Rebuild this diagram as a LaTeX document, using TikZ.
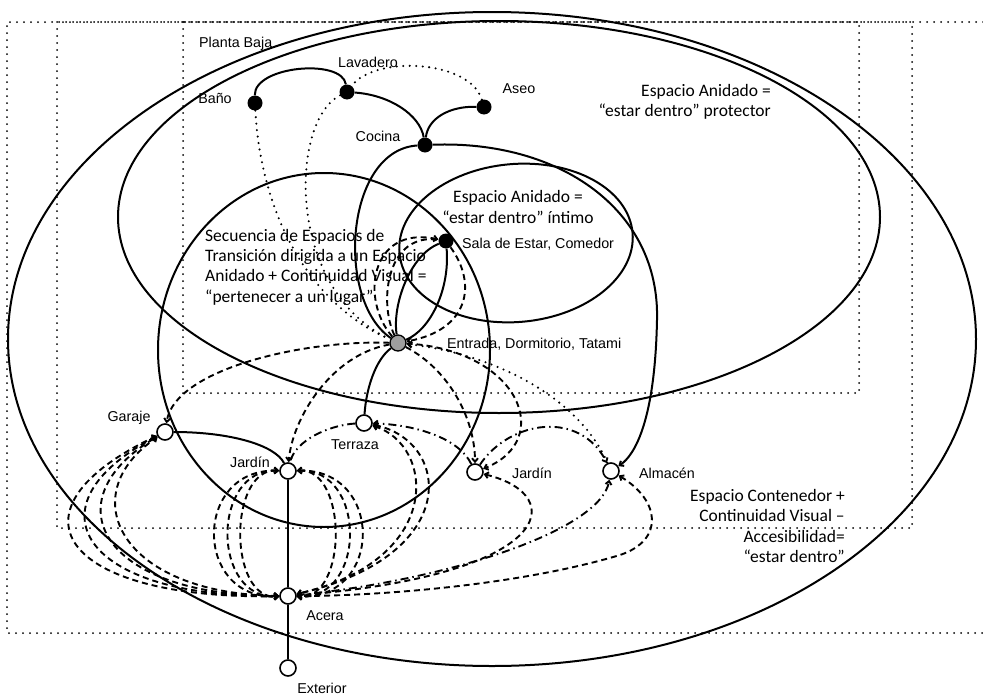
\documentclass[tikz,border=0pt]{standalone}
\usepackage{fontspec}
\setmainfont{Liberation Sans}
\newfontfamily\calfont{Carlito}
\usetikzlibrary{arrows.meta}
\pgfdeclarelayer{bg}
\pgfsetlayers{bg,main}
\begin{document}
\begin{tikzpicture}[x=1pt,y=-1pt,
 blk/.style={circle,fill=black,minimum size=15pt,inner sep=0pt},
 wht/.style={circle,draw=black,fill=white,line width=1.6pt,minimum size=16pt,inner sep=0pt},
 gry/.style={circle,draw=black,fill=gray!75,line width=1.3pt,minimum size=16pt,inner sep=0pt},
 lbl/.style={font=\fontsize{14.3}{16}\selectfont,inner sep=0pt},
 note/.style={font=\calfont\fontsize{17.5}{20.3}\selectfont,inner sep=0pt},
 sol/.style={line width=2pt},
 dsh/.style={line width=1.9pt,dash pattern=on 6pt off 4pt},
 dd/.style={line width=1.9pt,dash pattern=on 8pt off 4pt on 1.5pt off 4pt},
 dot/.style={line width=2.3pt,line cap=round,dash pattern=on 0pt off 6.5pt},
 box/.style={line width=2pt,line cap=round,dash pattern=on 0pt off 7pt},
 tip/.style={-{Straight Barb[length=3.5pt,width=6pt]}},
 tips/.style={{Straight Barb[length=3.5pt,width=6pt]}-{Straight Barb[length=3.5pt,width=6pt]}}
]
\useasboundingbox (0,0) rectangle (983,696);

% nodes
\node[blk] (bano) at (255,103) {};
\node[blk] (lav) at (347,92) {};
\node[blk] (aseo) at (484,107) {};
\node[blk] (coc) at (425,145) {};
\node[blk] (sala) at (446,241) {};
\node[gry] (ent) at (398,343) {};
\node[wht] (ter) at (364,423) {};
\node[wht] (gar) at (165,432) {};
\node[wht] (jarL) at (288,471) {};
\node[wht] (jarR) at (475,472) {};
\node[wht] (alm) at (611,471) {};
\node[wht] (acera) at (288,596) {};
\node[wht] (ext) at (288,668) {};

% labels
\node[lbl,anchor=west] (tpb) at (199,44) {Planta Baja};
\node[lbl] (tbano) at (215,98) {Baño};
\node[lbl] (tlav) at (368,62) {Lavadero};
\node[lbl] (taseo) at (519,89) {Aseo};
\node[lbl] (tcoc) at (378,136) {Cocina};
\node[lbl,anchor=west] (tsala) at (462,244) {Sala de Estar, Comedor};
\node[lbl,anchor=west] (tent) at (447,344) {Entrada, Dormitorio, Tatami};
\node[lbl] (tter) at (355,445) {Terraza};
\node[lbl] (tgar) at (129,418) {Garaje};
\node[lbl] (tjarL) at (250,462) {Jardín};
\node[lbl] (tjarR) at (532,473) {Jardín};
\node[lbl] (talm) at (667,473) {Almacén};
\node[lbl] (tacera) at (325,616) {Acera};
\node[lbl] (text) at (322,688) {Exterior};

\node[note,align=right,anchor=east] (n1) at (771,102) {Espacio Anidado =\\“estar dentro” protector};
\node[note,align=center] (n2) at (518,207) {Espacio Anidado =\\“estar dentro” íntimo};
\node[note,align=left,anchor=west] (n3) at (205,267) {Secuencia de Espacios de\\Transición dirigida a un Espacio\\Anidado + Continuidad Visual =\\“pertenecer a un lugar”};
\node[note,align=right,anchor=east] (n4) at (845,526) {Espacio Contenedor +\\Continuidad Visual –\\Accesibilidad=\\“estar dentro”};

\begin{pgfonlayer}{bg}
% dotted frames
\draw[box] (983,22) -- (7,22) -- (7,633) -- (983,633);
\draw[box] (57,22) rectangle (912,528);
\draw[box] (183,22) rectangle (859,393);
% ellipses
\draw[sol] (492,339) ellipse [x radius=484, y radius=327];
\draw[sol] (499,217) ellipse [x radius=381, y radius=196];
\draw[sol] (324,350) ellipse [x radius=166, y radius=177];
\draw[sol,rotate around={5:(516,243)}] (516,243) ellipse [x radius=117, y radius=79];

% solid connectors
\draw[sol] (bano) .. controls (254,66) and (342,58) .. (lav);
\draw[sol] (lav) .. controls (390,95) and (420,115) .. (coc);
\draw[sol] (coc) .. controls (428,118) and (450,106) .. (aseo);
\draw[sol] (coc) .. controls (345,150) and (335,300) .. (ent);
\draw[sol,tip] (coc) .. controls (560,140) and (660,210) .. (657,320) .. controls (655,420) and (635,455) .. (alm);
\draw[sol] (sala) .. controls (410,255) and (392,305) .. (ent);
\draw[sol] (sala) .. controls (450,290) and (430,330) .. (ent);
\draw[sol] (ent) .. controls (375,360) and (366,390) .. (ter);
\draw[sol] (gar) .. controls (230,432) and (275,445) .. (jarL);
\draw[sol] (jarL) -- (acera);
\draw[sol] (acera) -- (ext);

% dotted connectors
\draw[dot] (bano) .. controls (260,200) and (300,300) .. (ent);
\draw[dot] (lav) .. controls (290,120) and (285,290) .. (ent);
\draw[dot] (aseo) .. controls (470,60) and (375,55) .. (lav);
\draw[dot,tip] (alm) .. controls (580,400) and (500,355) .. (ent);

% dashed connectors
\draw[dsh,tips] (acera) .. controls (60,600) and (0,510) .. (gar);
\draw[dsh,tips] (acera) .. controls (80,598) and (25,505) .. (gar);
\draw[dsh,tips] (acera) .. controls (100,596) and (50,500) .. (gar);
\draw[dsh,tips] (acera) .. controls (120,594) and (72,495) .. (gar);
\foreach \k in {193,211,228,348,367,384}
  {\draw[dsh,tips] (jarL) .. controls (\k,468) and (\k,600) .. (acera);}
\draw[dsh,tips] (ter) .. controls (435,445) and (445,560) .. (acera);
\draw[dsh,tips] (ter) .. controls (450,440) and (465,555) .. (acera);
\draw[dsh,tip] (ent) .. controls (300,340) and (175,370) .. (gar);
\draw[dsh,tip] (ent) .. controls (330,355) and (292,420) .. (jarL);
\draw[dsh,tip] (ent) .. controls (360,300) and (370,225) .. (sala);
\draw[dsh] (ent) .. controls (378,300) and (388,232) .. (sala);
\draw[dsh,tip] (sala) .. controls (478,285) and (468,330) .. (ent);
\draw[dsh,tip] (ent) .. controls (450,370) and (475,420) .. (jarR);
\draw[dsh,tip] (ent) .. controls (520,350) and (555,440) .. (jarR);
\draw[dsh,tips] (jarR) .. controls (570,495) and (555,575) .. (acera);
\draw[dsh,tips] (alm) .. controls (660,500) and (665,540) .. (620,555) .. controls (520,585) and (380,596) .. (acera);

% dash-dot connectors
\draw[dd,tip] (acera) .. controls (450,580) and (600,530) .. (alm);
\draw[dd,tip] (jarR) .. controls (510,420) and (580,410) .. (alm);
\draw[dd,tip] (jarR) .. controls (460,440) and (420,425) .. (ter);
\draw[dd] (ter) .. controls (330,425) and (295,440) .. (jarL);
\end{pgfonlayer}
\end{tikzpicture}
\end{document}
